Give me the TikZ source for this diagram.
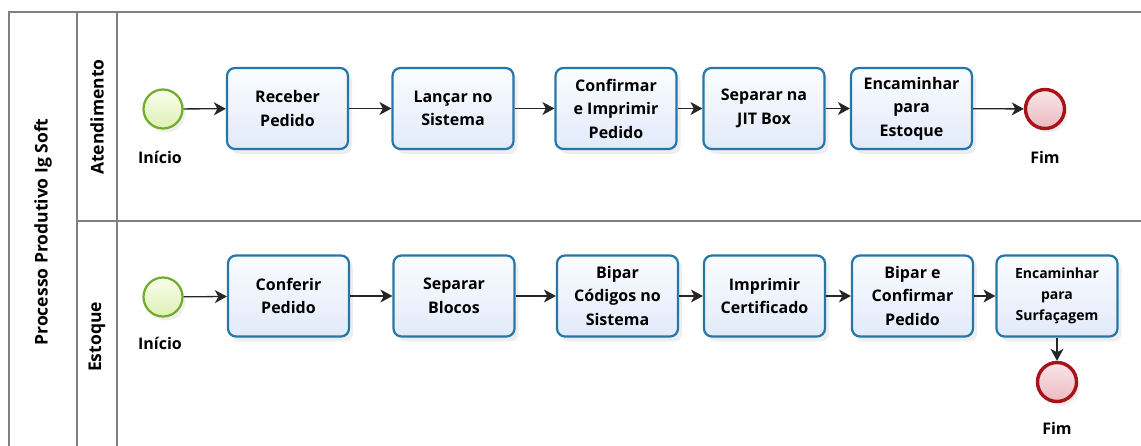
\documentclass[tikz,border=0pt]{standalone}
\usepackage{fontspec}
\setmainfont{Open Sans}
\usetikzlibrary{arrows.meta,shadows}
\definecolor{taskborder}{RGB}{38,118,168}
\definecolor{tasktop}{RGB}{250,252,255}
\definecolor{taskbot}{RGB}{226,234,250}
\definecolor{startborder}{RGB}{112,172,44}
\definecolor{starttop}{RGB}{250,253,236}
\definecolor{startbot}{RGB}{222,240,180}
\definecolor{endborder}{RGB}{168,18,24}
\definecolor{endtop}{RGB}{250,230,232}
\definecolor{endbot}{RGB}{234,186,192}
\definecolor{laneline}{RGB}{128,128,128}
\begin{document}
\begin{tikzpicture}[x=1pt,y=-1pt,
  task/.style={draw=taskborder, line width=2.2pt, rounded corners=8pt,
    minimum width=121pt, minimum height=81pt, inner sep=2pt,
    top color=tasktop, bottom color=taskbot, align=center,
    font=\fontsize{16}{23.5}\selectfont\bfseries,
    drop shadow={opacity=0.13, shadow xshift=4pt, shadow yshift=-5pt}},
  startev/.style={circle, draw=startborder, line width=2.2pt, minimum size=39pt,
    inner sep=0pt, top color=starttop, bottom color=startbot,
    drop shadow={opacity=0.13, shadow xshift=3pt, shadow yshift=-4pt}},
  endev/.style={circle, draw=endborder, line width=3.4pt, minimum size=39pt,
    inner sep=0pt, top color=endtop, bottom color=endbot,
    drop shadow={opacity=0.13, shadow xshift=3pt, shadow yshift=-4pt}},
  evlabel/.style={font=\fontsize{16}{18}\selectfont\bfseries},
  lanetitle/.style={rotate=90, font=\fontsize{17.5}{20}\selectfont\bfseries},
  lane/.style={draw=laneline, line width=1.5pt},
  flow/.style={draw=black!85, line width=1.3pt,
    -{Stealth[length=12pt,width=13pt,inset=3.5pt]}}
]
\useasboundingbox (0,0) rectangle (1141,446);
\fill[white] (0,0) rectangle (1141,446);

% pool and lanes
\draw[lane] (9,446) -- (9,12) -- (1141,12);
\draw[lane] (77,12) -- (77,446);
\draw[lane] (117,12) -- (117,446);
\draw[lane] (77,221) -- (1141,221);

\node[lanetitle] (pool) at (43,232) {Processo Produtivo Ig Soft};
\node[lanetitle] (laneA) at (97,117) {Atendimento};
\node[lanetitle] (laneB) at (97,337) {Estoque};

% top lane
\node[startev] (s1) at (163,109) {};
\node[evlabel] (s1l) at (160,157) {Início};
\node[task] (a1) at (287.5,108.5) {Receber\\Pedido};
\node[task] (a2) at (453,108.5) {Lançar no\\Sistema};
\node[task] (a3) at (616,108.5) {Confirmar\\e Imprimir\\Pedido};
\node[task] (a4) at (764,108.5) {Separar na\\JIT Box};
\node[task] (a5) at (911.5,108.5) {Encaminhar\\para\\Estoque};
\node[endev] (e1) at (1045,109) {};
\node[evlabel] (e1l) at (1045,157) {Fim};

\draw[flow] (s1) -- (a1);
\draw[flow] (a1) -- (a2);
\draw[flow] (a2) -- (a3);
\draw[flow] (a3) -- (a4);
\draw[flow] (a4) -- (a5);
\draw[flow] (a5) -- (e1);

% bottom lane
\node[startev] (s2) at (163,297) {};
\node[evlabel] (s2l) at (160,343) {Início};
\node[task] (b1) at (288.5,296) {Conferir\\Pedido};
\node[task] (b2) at (454,296) {Separar\\Blocos};
\node[task] (b3) at (617.5,296) {Bipar\\Códigos no\\Sistema};
\node[task] (b4) at (764.5,296) {Imprimir\\Certificado};
\node[task] (b5) at (912.5,296) {Bipar e\\Confirmar\\Pedido};
\node[task, font=\fontsize{14}{21}\selectfont\bfseries] (b6) at (1057,296) {Encaminhar\\para\\Surfaçagem};
\node[endev] (e2) at (1057,382) {};
\node[evlabel] (e2l) at (1057,428) {Fim};

\draw[flow] (s2) -- (b1);
\draw[flow] (b1) -- (b2);
\draw[flow] (b2) -- (b3);
\draw[flow] (b3) -- (b4);
\draw[flow] (b4) -- (b5);
\draw[flow] (b5) -- (b6);
\draw[flow] (b6) -- (e2);
\end{tikzpicture}
\end{document}
